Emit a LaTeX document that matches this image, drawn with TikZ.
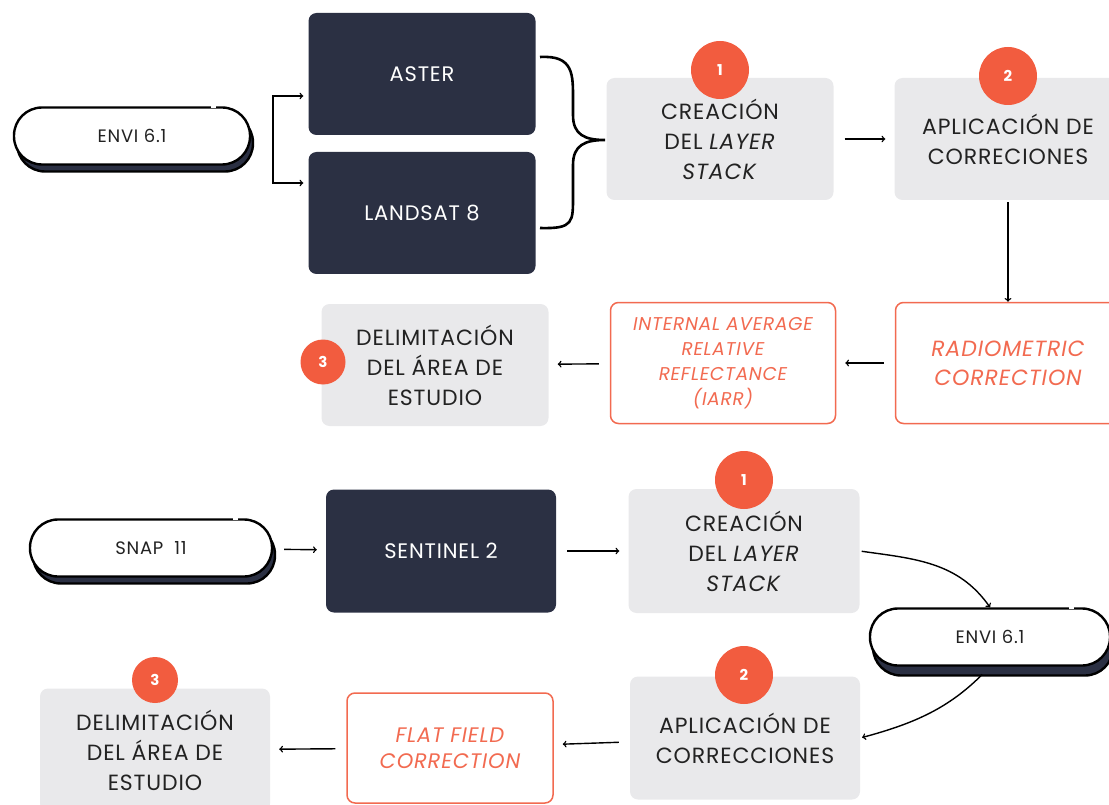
\documentclass[tikz,border=0pt]{standalone}
\usepackage{fontspec}
\setmainfont{Poppins}[LetterSpace=4]
\usetikzlibrary{positioning}

\definecolor{navy}{HTML}{2B3043}
\definecolor{boxgray}{HTML}{E9E9EB}
\definecolor{badgeorange}{HTML}{F25C3F}
\definecolor{corrorange}{HTML}{F26A50}
\definecolor{inkgray}{HTML}{222222}

\tikzset{
  darkbox/.style={fill=navy, rounded corners=8pt, minimum width=227pt, minimum height=122pt,
    text=white, font=\fontsize{21}{25}\selectfont},
  graybox/.style={fill=boxgray, rounded corners=8pt, minimum width=227pt, minimum height=122pt,
    text=inkgray, align=center, font=\fontsize{22}{30}\selectfont},
  corrbox/.style={draw=corrorange, line width=1.5pt, fill=white, rounded corners=8pt,
    minimum width=225pt, minimum height=121pt, text=corrorange, align=center},
  badge/.style={circle, fill=badgeorange, text=white, minimum size=58pt, inner sep=0pt,
    font=\fontsize{15}{15}\selectfont\bfseries},
  pill/.style={draw, line width=2.4pt, fill=white, rounded corners=28pt, minimum width=236pt,
    minimum height=57pt, text=inkgray, font=\fontsize{18}{18}\selectfont},
  pillshadow/.style={draw, line width=2.4pt, fill=navy, rounded corners=28pt, minimum width=236pt,
    minimum height=57pt},
  arr/.style={->, line width=1.4pt, shorten <=11pt, shorten >=9pt}
}

\begin{document}
\begin{tikzpicture}[x=1pt, y=-1pt]
\path[use as bounding box] (0,0) rectangle (1109,805);
\clip (0,0) rectangle (1109,805);

% ---- ENVI / ASTER / LANDSAT ----
\node[pillshadow] (envishadow) at (135,143) {};
\node[pill] (envi) at (132,136) {ENVI 6.1};
\draw[white, line width=3pt] ([xshift=-40pt]envi.north east) -- ([xshift=-35pt]envi.north east);

\node[darkbox] (aster) at (422,74) {ASTER};
\node[darkbox] (landsat) at (422,213) {LANDSAT 8};

\coordinate (forktop) at (273,96);
\coordinate (forkbot) at (273,183);
\draw[<->, line width=1.4pt, shorten <=5pt, shorten >=5pt]
  (aster.west |- forktop) -- (forktop) -- (forkbot) -- (landsat.west |- forkbot);

% brace
\coordinate (bracetip) at (605,140);
\draw[line width=2.6pt] (540,57) .. controls (574,55) and (573,75) .. (573,100) -- (573,115)
  .. controls (573,135) and (585,140) .. (bracetip)
  .. controls (585,140) and (573,145) .. (573,165) -- (573,195)
  .. controls (573,222) and (574,229) .. (540,228);

\node[graybox] (layer) at (720,139) {CREACIÓN\\DEL \textit{LAYER}\\\textit{STACK}};
\node[graybox] (aplic) at (1008,139) {APLICACIÓN DE\\CORRECIONES};
\node[corrbox, font=\fontsize{22}{29}\selectfont\itshape] (radio) at (1008,363) {RADIOMETRIC\\CORRECTION};
\node[corrbox, font=\fontsize{18.5}{25}\selectfont\itshape] (iarr) at (723,363) {INTERNAL AVERAGE\\RELATIVE\\REFLECTANCE\\(IARR)};
\node[graybox] (delim) at (435,365) {DELIMITACIÓN\\DEL ÁREA DE\\ESTUDIO};

\node[badge] (b1) at (720,70) {1};
\node[badge] (b2) at (1008,76) {2};
\node[badge, minimum size=45pt] (b3) at (323,362) {3};

\draw[arr] (layer) -- (aplic);
\draw[->, line width=1.4pt, shorten <=2pt] (aplic) -- (radio);
\draw[arr] (radio) -- (iarr);
\draw[arr] (iarr) -- (delim);

% ---- SNAP / SENTINEL ----
\node[pillshadow, minimum width=242pt] (snapshadow) at (154,555) {};
\node[pill, minimum width=242pt] (snap) at (151,548) {SNAP~~11};
\draw[white, line width=3pt] ([xshift=-40pt]snap.north east) -- ([xshift=-35pt]snap.north east);

\node[darkbox, minimum width=230pt, minimum height=123pt] (sentinel) at (441,551) {SENTINEL 2};
\node[graybox, minimum width=231pt, minimum height=124pt] (layerb) at (744,551) {CREACIÓN\\DEL \textit{LAYER}\\\textit{STACK}};

\node[pillshadow, minimum width=240pt] (envibshadow) at (993,647) {};
\node[pill, minimum width=240pt] (envib) at (990,637) {ENVI 6.1};
\draw[white, line width=3pt] ([xshift=-42pt]envib.north east) -- ([xshift=-37pt]envib.north east);

\node[graybox, minimum width=230pt, minimum height=123pt] (aplicb) at (745,738) {APLICACIÓN DE\\CORRECCIONES};
\node[corrbox, minimum width=206pt, minimum height=110pt, font=\fontsize{21}{26}\selectfont\itshape] (flat) at (450,748) {FLAT FIELD\\CORRECTION};
\node[graybox, minimum width=230pt, minimum height=123pt] (delimb) at (155,750) {DELIMITACIÓN\\DEL ÁREA DE\\ESTUDIO};

\node[badge] (b1b) at (744,480) {1};
\node[badge] (b2b) at (744,675) {2};
\node[badge, minimum size=46pt] (b3b) at (155,680) {3};

\draw[arr] (snap) -- (sentinel);
\draw[arr] (sentinel) -- (layerb);
\draw[->, line width=1.4pt, shorten <=2pt] (layerb.east) to[out=-8, in=125] (envib.north);
\draw[->, line width=1.4pt, shorten <=11pt, shorten >=2pt] (envib.south) to[out=-135, in=15] (aplicb.east);
\draw[arr] (aplicb) -- (flat);
\draw[arr] (flat) -- (delimb);
\end{tikzpicture}
\end{document}
